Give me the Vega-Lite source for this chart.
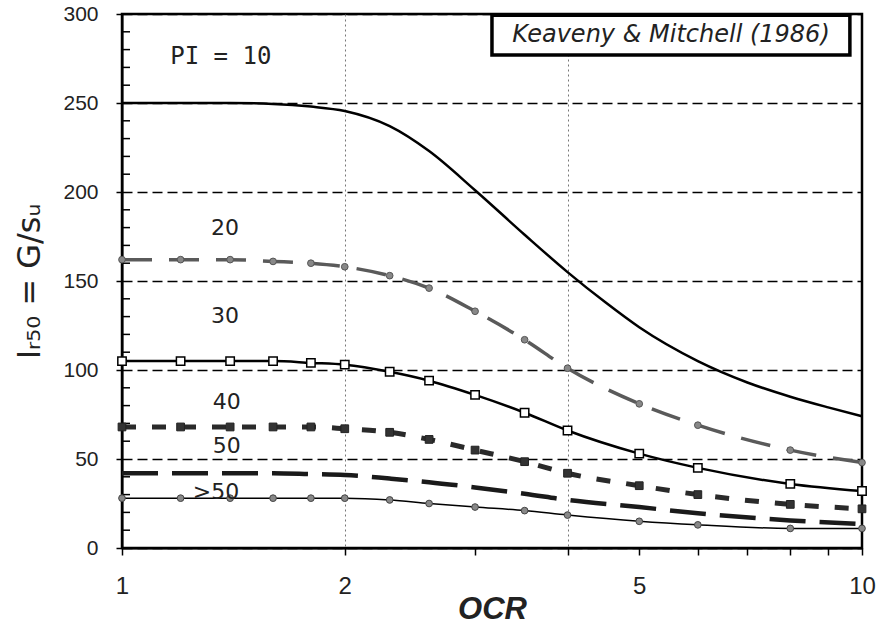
{
  "$schema": "https://vega.github.io/schema/vega-lite/v6.json",
  "width": 740,
  "height": 534,
  "autosize": {"type": "none"},
  "padding": {"left": 122, "top": 14, "right": 21, "bottom": 79},
  "background": "white",
  "config": {
    "view": {"stroke": "black", "strokeWidth": 2.5},
    "axis": {"domainColor": "black", "domainWidth": 2, "tickColor": "black", "tickWidth": 1.5, "labelColor": "#222", "titleColor": "#222"}
  },
  "datasets": {
    "curves": [
      {"PI": "10", "OCR": 1, "IR": 250}, {"PI": "10", "OCR": 1.2, "IR": 250}, {"PI": "10", "OCR": 1.4, "IR": 250}, {"PI": "10", "OCR": 1.6, "IR": 249.5}, {"PI": "10", "OCR": 1.8, "IR": 248}, {"PI": "10", "OCR": 2, "IR": 245.5}, {"PI": "10", "OCR": 2.3, "IR": 237}, {"PI": "10", "OCR": 2.6, "IR": 223}, {"PI": "10", "OCR": 3, "IR": 201}, {"PI": "10", "OCR": 3.5, "IR": 176}, {"PI": "10", "OCR": 4, "IR": 155}, {"PI": "10", "OCR": 4.5, "IR": 138}, {"PI": "10", "OCR": 5, "IR": 124}, {"PI": "10", "OCR": 6, "IR": 105}, {"PI": "10", "OCR": 7, "IR": 93}, {"PI": "10", "OCR": 8, "IR": 85}, {"PI": "10", "OCR": 9, "IR": 79}, {"PI": "10", "OCR": 10, "IR": 74},
      {"PI": "20", "OCR": 1, "IR": 162}, {"PI": "20", "OCR": 1.2, "IR": 162}, {"PI": "20", "OCR": 1.4, "IR": 162}, {"PI": "20", "OCR": 1.6, "IR": 161}, {"PI": "20", "OCR": 1.8, "IR": 160}, {"PI": "20", "OCR": 2, "IR": 158}, {"PI": "20", "OCR": 2.3, "IR": 153}, {"PI": "20", "OCR": 2.6, "IR": 146}, {"PI": "20", "OCR": 3, "IR": 133}, {"PI": "20", "OCR": 3.5, "IR": 117}, {"PI": "20", "OCR": 4, "IR": 101}, {"PI": "20", "OCR": 5, "IR": 81}, {"PI": "20", "OCR": 6, "IR": 69}, {"PI": "20", "OCR": 8, "IR": 55}, {"PI": "20", "OCR": 10, "IR": 48},
      {"PI": "30", "OCR": 1, "IR": 105}, {"PI": "30", "OCR": 1.2, "IR": 105}, {"PI": "30", "OCR": 1.4, "IR": 105}, {"PI": "30", "OCR": 1.6, "IR": 105}, {"PI": "30", "OCR": 1.8, "IR": 104}, {"PI": "30", "OCR": 2, "IR": 103}, {"PI": "30", "OCR": 2.3, "IR": 99}, {"PI": "30", "OCR": 2.6, "IR": 94}, {"PI": "30", "OCR": 3, "IR": 86}, {"PI": "30", "OCR": 3.5, "IR": 76}, {"PI": "30", "OCR": 4, "IR": 66}, {"PI": "30", "OCR": 5, "IR": 53}, {"PI": "30", "OCR": 6, "IR": 45}, {"PI": "30", "OCR": 8, "IR": 36}, {"PI": "30", "OCR": 10, "IR": 32},
      {"PI": "40", "OCR": 1, "IR": 68}, {"PI": "40", "OCR": 1.2, "IR": 68}, {"PI": "40", "OCR": 1.4, "IR": 68}, {"PI": "40", "OCR": 1.6, "IR": 68}, {"PI": "40", "OCR": 1.8, "IR": 68}, {"PI": "40", "OCR": 2, "IR": 67}, {"PI": "40", "OCR": 2.3, "IR": 65}, {"PI": "40", "OCR": 2.6, "IR": 61}, {"PI": "40", "OCR": 3, "IR": 55}, {"PI": "40", "OCR": 3.5, "IR": 48.5}, {"PI": "40", "OCR": 4, "IR": 42}, {"PI": "40", "OCR": 5, "IR": 35}, {"PI": "40", "OCR": 6, "IR": 30}, {"PI": "40", "OCR": 8, "IR": 24.5}, {"PI": "40", "OCR": 10, "IR": 22},
      {"PI": "50", "OCR": 1, "IR": 42}, {"PI": "50", "OCR": 1.2, "IR": 42}, {"PI": "50", "OCR": 1.4, "IR": 42}, {"PI": "50", "OCR": 1.6, "IR": 42}, {"PI": "50", "OCR": 1.8, "IR": 41.5}, {"PI": "50", "OCR": 2, "IR": 41}, {"PI": "50", "OCR": 2.3, "IR": 39}, {"PI": "50", "OCR": 2.6, "IR": 37}, {"PI": "50", "OCR": 3, "IR": 34}, {"PI": "50", "OCR": 3.5, "IR": 30.5}, {"PI": "50", "OCR": 4, "IR": 27}, {"PI": "50", "OCR": 5, "IR": 23}, {"PI": "50", "OCR": 6, "IR": 19.5}, {"PI": "50", "OCR": 8, "IR": 15.5}, {"PI": "50", "OCR": 10, "IR": 13.5},
      {"PI": ">50", "OCR": 1, "IR": 28}, {"PI": ">50", "OCR": 1.2, "IR": 28}, {"PI": ">50", "OCR": 1.4, "IR": 28}, {"PI": ">50", "OCR": 1.6, "IR": 28}, {"PI": ">50", "OCR": 1.8, "IR": 28}, {"PI": ">50", "OCR": 2, "IR": 28}, {"PI": ">50", "OCR": 2.3, "IR": 27}, {"PI": ">50", "OCR": 2.6, "IR": 25}, {"PI": ">50", "OCR": 3, "IR": 23}, {"PI": ">50", "OCR": 3.5, "IR": 21}, {"PI": ">50", "OCR": 4, "IR": 18.5}, {"PI": ">50", "OCR": 5, "IR": 15}, {"PI": ">50", "OCR": 6, "IR": 13}, {"PI": ">50", "OCR": 8, "IR": 11}, {"PI": ">50", "OCR": 10, "IR": 11}
    ],
    "labels": [
      {"text": "20", "OCR": 1.378, "IR": 180},
      {"text": "30", "OCR": 1.378, "IR": 130.5},
      {"text": "40", "OCR": 1.385, "IR": 82},
      {"text": "50", "OCR": 1.385, "IR": 57.5},
      {"text": ">50", "OCR": 1.34, "IR": 31.5}
    ],
    "minor": [
      {"IR": 10}, {"IR": 20}, {"IR": 30}, {"IR": 40}, {"IR": 60}, {"IR": 70}, {"IR": 80}, {"IR": 90},
      {"IR": 110}, {"IR": 120}, {"IR": 130}, {"IR": 140}, {"IR": 160}, {"IR": 170}, {"IR": 180}, {"IR": 190},
      {"IR": 210}, {"IR": 220}, {"IR": 230}, {"IR": 240}, {"IR": 260}, {"IR": 270}, {"IR": 280}, {"IR": 290}
    ]
  },
  "layer": [
    {
      "data": {"name": "curves"},
      "transform": [{"filter": {"field": "PI", "equal": "10"}}],
      "mark": {"type": "line", "color": "black", "strokeWidth": 2.5, "interpolate": "monotone"},
      "encoding": {
        "x": {
          "field": "OCR", "type": "quantitative", "title": "OCR",
          "scale": {"type": "log", "domain": [1, 10], "nice": false},
          "axis": {
            "values": [1, 2, 3, 4, 5, 6, 7, 8, 9, 10],
            "format": "d",
            "labelExpr": "(datum.value == 1 || datum.value == 2 || datum.value == 5 || datum.value == 10) ? datum.label : ''",
            "labelOverlap": false, "labelFlush": false,
            "titleFont": "Liberation Sans", "titleFontSize": 31, "titleFontStyle": "italic", "titleFontWeight": "bold", "titlePadding": -4,
            "labelFont": "Liberation Sans", "labelFontSize": 24, "labelPadding": 19, "tickSize": 7,
            "grid": true, "gridColor": "#777", "gridDash": [2, 3], "gridWidth": 1,
            "gridOpacity": {"condition": {"test": "datum.value == 2 || datum.value == 4", "value": 1}, "value": 0}
          }
        },
        "y": {
          "field": "IR", "type": "quantitative", "title": "Iᵣ₅₀  =  G/sᵤ",
          "scale": {"domain": [0, 300], "nice": false},
          "axis": {
            "values": [0, 50, 100, 150, 200, 250, 300],
            "titleFont": "DejaVu Sans", "titleFontSize": 32, "titleFontWeight": "normal", "titlePadding": 16,
            "labelFont": "Liberation Sans", "labelFontSize": 21, "labelPadding": 18, "tickSize": 6,
            "grid": true, "gridColor": "black", "gridDash": [10, 5], "gridWidth": 1.3
          }
        }
      }
    },
    {
      "data": {"name": "minor"},
      "mark": {"type": "tick", "orient": "horizontal", "color": "black", "size": 8, "thickness": 1.5, "opacity": 1},
      "encoding": {
        "x": {"datum": 1.0126, "type": "quantitative", "scale": {"type": "log", "domain": [1, 10], "nice": false}},
        "y": {"field": "IR", "type": "quantitative", "title": "Iᵣ₅₀  =  G/sᵤ", "scale": {"domain": [0, 300], "nice": false}}
      }
    },
    {
      "data": {"name": "curves"},
      "transform": [{"filter": {"field": "PI", "equal": "20"}}],
      "mark": {"type": "line", "color": "#5a5a5a", "strokeWidth": 3.5, "strokeDash": [30, 17], "interpolate": "monotone"},
      "encoding": {
        "x": {"field": "OCR", "type": "quantitative", "title": "OCR", "scale": {"type": "log", "domain": [1, 10], "nice": false}},
        "y": {"field": "IR", "type": "quantitative", "title": "Iᵣ₅₀  =  G/sᵤ", "scale": {"domain": [0, 300], "nice": false}}
      }
    },
    {
      "data": {"name": "curves"},
      "transform": [{"filter": {"field": "PI", "equal": "20"}}],
      "mark": {"type": "point", "shape": "circle", "filled": true, "fill": "#888", "stroke": "#555", "strokeWidth": 1, "size": 45, "opacity": 1},
      "encoding": {
        "x": {"field": "OCR", "type": "quantitative", "title": "OCR", "scale": {"type": "log", "domain": [1, 10], "nice": false}},
        "y": {"field": "IR", "type": "quantitative", "title": "Iᵣ₅₀  =  G/sᵤ", "scale": {"domain": [0, 300], "nice": false}}
      }
    },
    {
      "data": {"name": "curves"},
      "transform": [{"filter": {"field": "PI", "equal": "30"}}],
      "mark": {"type": "line", "color": "black", "strokeWidth": 2.5, "interpolate": "monotone"},
      "encoding": {
        "x": {"field": "OCR", "type": "quantitative", "title": "OCR", "scale": {"type": "log", "domain": [1, 10], "nice": false}},
        "y": {"field": "IR", "type": "quantitative", "title": "Iᵣ₅₀  =  G/sᵤ", "scale": {"domain": [0, 300], "nice": false}}
      }
    },
    {
      "data": {"name": "curves"},
      "transform": [{"filter": {"field": "PI", "equal": "30"}}],
      "mark": {"type": "point", "shape": "square", "filled": true, "fill": "white", "stroke": "black", "strokeWidth": 1.5, "size": 70, "opacity": 1},
      "encoding": {
        "x": {"field": "OCR", "type": "quantitative", "title": "OCR", "scale": {"type": "log", "domain": [1, 10], "nice": false}},
        "y": {"field": "IR", "type": "quantitative", "title": "Iᵣ₅₀  =  G/sᵤ", "scale": {"domain": [0, 300], "nice": false}}
      }
    },
    {
      "data": {"name": "curves"},
      "transform": [{"filter": {"field": "PI", "equal": "40"}}],
      "mark": {"type": "line", "color": "#2a2a2a", "strokeWidth": 5, "strokeDash": [14, 16], "interpolate": "monotone"},
      "encoding": {
        "x": {"field": "OCR", "type": "quantitative", "title": "OCR", "scale": {"type": "log", "domain": [1, 10], "nice": false}},
        "y": {"field": "IR", "type": "quantitative", "title": "Iᵣ₅₀  =  G/sᵤ", "scale": {"domain": [0, 300], "nice": false}}
      }
    },
    {
      "data": {"name": "curves"},
      "transform": [{"filter": {"field": "PI", "equal": "40"}}],
      "mark": {"type": "point", "shape": "square", "filled": true, "fill": "#333", "stroke": "#222", "strokeWidth": 1, "size": 60, "opacity": 1},
      "encoding": {
        "x": {"field": "OCR", "type": "quantitative", "title": "OCR", "scale": {"type": "log", "domain": [1, 10], "nice": false}},
        "y": {"field": "IR", "type": "quantitative", "title": "Iᵣ₅₀  =  G/sᵤ", "scale": {"domain": [0, 300], "nice": false}}
      }
    },
    {
      "data": {"name": "curves"},
      "transform": [{"filter": {"field": "PI", "equal": "50"}}],
      "mark": {"type": "line", "color": "#1a1a1a", "strokeWidth": 4.5, "strokeDash": [36, 14], "interpolate": "monotone"},
      "encoding": {
        "x": {"field": "OCR", "type": "quantitative", "title": "OCR", "scale": {"type": "log", "domain": [1, 10], "nice": false}},
        "y": {"field": "IR", "type": "quantitative", "title": "Iᵣ₅₀  =  G/sᵤ", "scale": {"domain": [0, 300], "nice": false}}
      }
    },
    {
      "data": {"name": "curves"},
      "transform": [{"filter": {"field": "PI", "equal": ">50"}}],
      "mark": {"type": "line", "color": "black", "strokeWidth": 1.5, "interpolate": "monotone"},
      "encoding": {
        "x": {"field": "OCR", "type": "quantitative", "title": "OCR", "scale": {"type": "log", "domain": [1, 10], "nice": false}},
        "y": {"field": "IR", "type": "quantitative", "title": "Iᵣ₅₀  =  G/sᵤ", "scale": {"domain": [0, 300], "nice": false}}
      }
    },
    {
      "data": {"name": "curves"},
      "transform": [{"filter": {"field": "PI", "equal": ">50"}}],
      "mark": {"type": "point", "shape": "circle", "filled": true, "fill": "#888", "stroke": "#444", "strokeWidth": 1, "size": 45, "opacity": 1},
      "encoding": {
        "x": {"field": "OCR", "type": "quantitative", "title": "OCR", "scale": {"type": "log", "domain": [1, 10], "nice": false}},
        "y": {"field": "IR", "type": "quantitative", "title": "Iᵣ₅₀  =  G/sᵤ", "scale": {"domain": [0, 300], "nice": false}}
      }
    },
    {
      "data": {"name": "labels"},
      "mark": {"type": "text", "font": "DejaVu Sans", "fontSize": 22, "color": "#222", "align": "center", "baseline": "middle"},
      "encoding": {
        "x": {"field": "OCR", "type": "quantitative", "title": "OCR", "scale": {"type": "log", "domain": [1, 10], "nice": false}},
        "y": {"field": "IR", "type": "quantitative", "title": "Iᵣ₅₀  =  G/sᵤ", "scale": {"domain": [0, 300], "nice": false}},
        "text": {"field": "text"}
      }
    },
    {
      "data": {"values": [{}]},
      "mark": {"type": "text", "font": "DejaVu Sans Mono", "fontSize": 24, "color": "#222", "align": "center", "baseline": "middle"},
      "encoding": {
        "x": {"datum": 1.36, "type": "quantitative", "scale": {"type": "log", "domain": [1, 10], "nice": false}},
        "y": {"datum": 276, "type": "quantitative", "scale": {"domain": [0, 300], "nice": false}},
        "text": {"value": "PI = 10"}
      }
    },
    {
      "data": {"values": [{}]},
      "mark": {"type": "rect", "fill": "white", "stroke": "black", "strokeWidth": 3.5},
      "encoding": {
        "x": {"datum": 3.162, "type": "quantitative", "scale": {"type": "log", "domain": [1, 10], "nice": false}},
        "x2": {"datum": 9.63},
        "y": {"datum": 299.3, "type": "quantitative", "scale": {"domain": [0, 300], "nice": false}},
        "y2": {"datum": 277}
      }
    },
    {
      "data": {"values": [{}]},
      "mark": {"type": "text", "font": "DejaVu Sans", "fontSize": 24, "fontStyle": "italic", "color": "#222", "align": "center", "baseline": "middle"},
      "encoding": {
        "x": {"datum": 5.52, "type": "quantitative", "scale": {"type": "log", "domain": [1, 10], "nice": false}},
        "y": {"datum": 288.3, "type": "quantitative", "scale": {"domain": [0, 300], "nice": false}},
        "text": {"value": "Keaveny & Mitchell (1986)"}
      }
    }
  ]
}
